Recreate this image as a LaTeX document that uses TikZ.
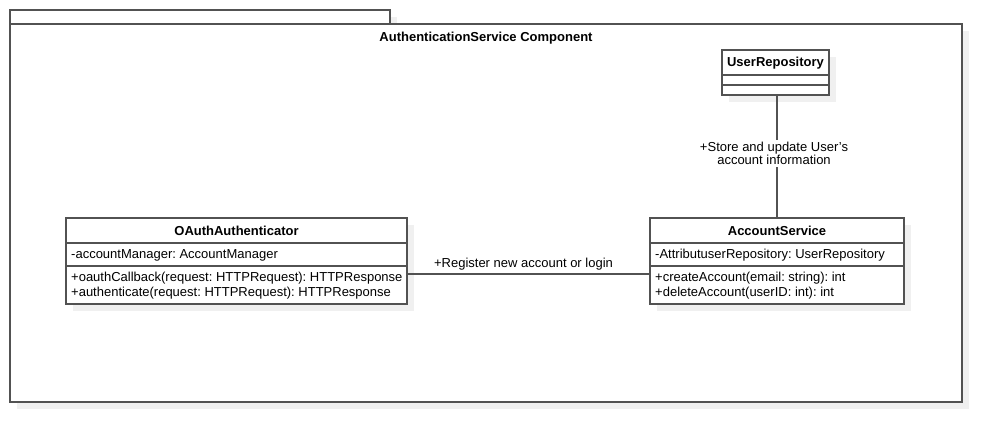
\documentclass[tikz,border=0pt]{standalone}
\usepackage{fontspec}
\setmainfont{Liberation Sans}
\usetikzlibrary{positioning,shadows}
\frenchspacing

\begin{document}
\begin{tikzpicture}[
  x=1pt, y=-1pt,
  every node/.style={font=\fontsize{13}{15}\selectfont, inner sep=0pt},
  umlline/.style={draw=black!68, line width=1.1pt},
  shadowed/.style={drop shadow={shadow xshift=7pt, shadow yshift=-7pt,
    fill=black!6, opacity=1}},
  classbox/.style={umlline, fill=white, shadowed, anchor=north west,
    outer sep=0pt},
  classname/.style={font=\fontsize{13}{15}\selectfont\bfseries},
  member/.style={anchor=west, align=left}
]
\useasboundingbox (0,0) rectangle (1003,442);

% Component frame with its tab.
\node[classbox, minimum width=380pt, minimum height=14pt] (tab) at (10,10) {};
\node[classbox, minimum width=952pt, minimum height=378pt] (frame) at (10,24) {};
\node[classname] (title) at ([yshift=-14.5pt]frame.north)
  {AuthenticationService Component};

% UserRepository class.
\node[classbox, minimum width=107pt, minimum height=45pt] (repo) at (722,50) {};
\node[classname] (reponame) at ([yshift=-13.5pt]repo.north) {UserRepository};
\draw[umlline] ([yshift=-25pt]repo.north west) -- ([yshift=-25pt]repo.north east);
\draw[umlline] ([yshift=-35pt]repo.north west) -- ([yshift=-35pt]repo.north east);

% OAuthAuthenticator class.
\node[classbox, minimum width=341pt, minimum height=86pt] (oauth) at (66,218) {};
\node[classname] (oauthname) at ([yshift=-12.5pt]oauth.north) {OAuthAuthenticator};
\draw[umlline] ([yshift=-25pt]oauth.north west) -- ([yshift=-25pt]oauth.north east);
\draw[umlline] ([yshift=-48pt]oauth.north west) -- ([yshift=-48pt]oauth.north east);
\node[member] (oauthattr) at ([xshift=5pt,yshift=-37.5pt]oauth.north west)
  {-accountManager: AccountManager};
\node[member] (oauthops) at ([xshift=5pt,yshift=-68pt]oauth.north west)
  {+oauthCallback(request: HTTPRequest): HTTPResponse\\
   +authenticate(request: HTTPRequest): HTTPResponse};

% AccountService class.
\node[classbox, minimum width=254pt, minimum height=86pt] (account) at (650,218) {};
\node[classname] (accountname) at ([yshift=-12.5pt]account.north) {AccountService};
\draw[umlline] ([yshift=-25pt]account.north west) -- ([yshift=-25pt]account.north east);
\draw[umlline] ([yshift=-48pt]account.north west) -- ([yshift=-48pt]account.north east);
\node[member] (accountattr) at ([xshift=5pt,yshift=-37.5pt]account.north west)
  {-AttributuserRepository: UserRepository};
\node[member] (accountops) at ([xshift=5pt,yshift=-68pt]account.north west)
  {+createAccount(email: string): int\\
   +deleteAccount(userID: int): int};

% Associations.
\draw[umlline] ([yshift=-13pt]oauth.east) -- ([yshift=-13pt]account.west)
  node[midway, above=3.5pt, xshift=-5pt] (reglabel) {+Register new account or login};
\draw[umlline] (account.north |- repo.south) -- (account.north)
  node[midway, fill=white, inner sep=2pt, align=center, xshift=-3pt, yshift=3pt,
    font=\fontsize{13}{13}\selectfont] (storelabel)
  {+Store and update User’s\\account information};
\end{tikzpicture}
\end{document}
